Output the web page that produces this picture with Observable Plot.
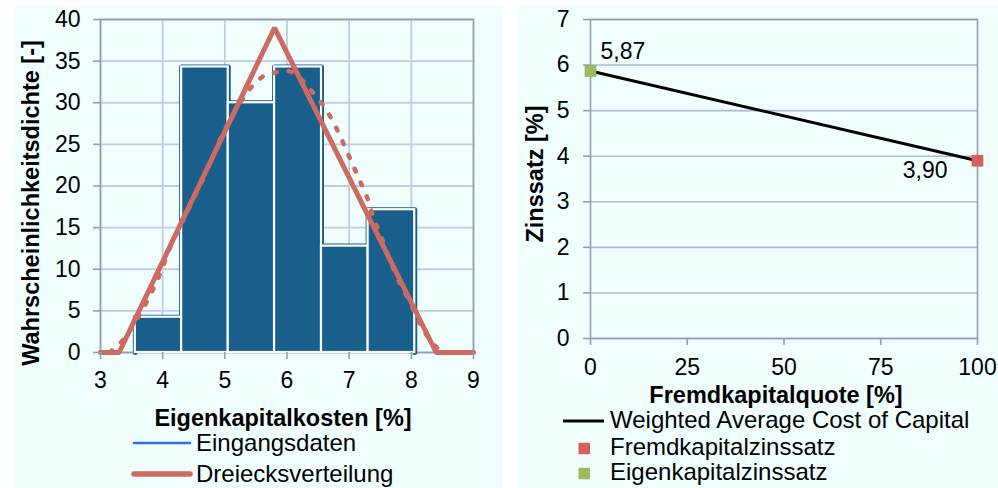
<!DOCTYPE html>
<html>
<head>
<meta charset="utf-8">
<script src="https://cdn.jsdelivr.net/npm/d3@7"></script>
<script src="https://cdn.jsdelivr.net/npm/@observablehq/plot@0.6"></script>
<style>
  html, body { margin: 0; padding: 0; background: #ffffff; }
  body { width: 998px; height: 488px; position: relative; overflow: hidden; font-family: "Liberation Sans", Arial, sans-serif; }
  .panel { position: absolute; background: #f0fffe; }
  #left { left: 14px; top: 6px; width: 489px; height: 482px; }
  #right { left: 518px; top: 6px; width: 480px; height: 482px; }
  .panel svg { position: absolute; left: 0; top: 0; }
  #overlay { position: absolute; left: 0; top: 0; pointer-events: none; }
</style>
</head>
<body>
<div class="panel" id="left"></div>
<div class="panel" id="right"></div>
<svg id="overlay" width="998" height="488"></svg>
<script>
// ---------- Left chart data ----------
const binEdges = [3.56, 4.305, 5.055, 5.80, 6.555, 7.305, 8.055];
const binHeights = [4.24, 34.3, 30.0, 34.3, 12.78, 17.15];

const triX = [3, 3.3, 5.8, 8.4, 9];
const triY = [0, 0, 39, 0, 0];

const dotX = [3.15, 3.21, 3.35, 3.57, 3.78, 3.95, 4.13, 4.40, 4.61, 4.82, 4.96, 5.15, 5.30, 5.49, 5.65, 5.79, 6.03, 6.20, 6.35, 6.57, 6.75, 6.89, 7.02, 7.15, 7.29, 7.40, 7.50, 7.64, 7.80, 7.91, 8.07, 8.20, 8.36, 8.45];
const dotY = [0, 0.4, 1.4, 3.8, 6.6, 9.3, 12.8, 17.0, 20.2, 23.8, 26.2, 28.8, 30.6, 32.4, 33.3, 33.6, 33.8, 33.0, 31.8, 29.8, 27.6, 25.4, 23.2, 21.0, 18.6, 16.0, 14.2, 11.4, 8.6, 7.0, 4.6, 2.6, 1.0, 0.3];

const leftXTicks = [3, 4, 5, 6, 7, 8, 9];
const leftYTicks = [0, 5, 10, 15, 20, 25, 30, 35, 40];

// ---------- Right chart data ----------
const fkQuote = [0, 100];
const wacc = [5.87, 3.90];
const ekPoint = [{x: 0, y: 5.87}];
const fkPoint = [{x: 100, y: 3.90}];
const rightXTicks = [0, 25, 50, 75, 100];
const rightYTicks = [0, 1, 2, 3, 4, 5, 6, 7];

// ---------- Colors ----------
const barColor = "#185f8b";
const triColor = "#cd6a62";
const gridColor = "#c0cbe8";
const axisColor = "#939db4";
const fkColor = "#d4615a";
const ekColor = "#9bbb59";
const font = "'Liberation Sans', Arial, sans-serif";

// build tables
const bins = binHeights.map((h, i) => ({x1: binEdges[i], x2: binEdges[i + 1], h}));
const outline = [];
outline.push({x: binEdges[0], y: 0});
bins.forEach(b => { outline.push({x: b.x1, y: b.h}); outline.push({x: b.x2, y: b.h}); });
outline.push({x: binEdges[binEdges.length - 1], y: 0});
const tri = triX.map((x, i) => ({x, y: triY[i]}));
const dots = dotX.map((x, i) => ({x, y: dotY[i]}));
const waccData = fkQuote.map((x, i) => ({x, y: wacc[i]}));

const leftPlot = Plot.plot({
  width: 489, height: 395,
  marginLeft: 86, marginRight: 30, marginTop: 13, marginBottom: 49,
  style: {background: "transparent", fontFamily: font, fontSize: "23px", color: "#000", overflow: "visible"},
  x: {domain: [3, 9]},
  y: {domain: [0, 40]},
  marks: [
    Plot.gridX(leftXTicks, {stroke: gridColor, strokeOpacity: 1, strokeWidth: 1.8}),
    Plot.gridY(leftYTicks, {stroke: gridColor, strokeOpacity: 1, strokeWidth: 1.8}),
    Plot.frame({stroke: axisColor, strokeWidth: 1.6}),
    Plot.line(outline, {x: "x", y: "y", stroke: barColor, strokeWidth: 5}),
    Plot.rect(bins, {x1: "x1", x2: "x2", y1: 0, y2: "h", fill: barColor, stroke: "white", strokeWidth: 2.2}),
    Plot.line(dots, {x: "x", y: "y", stroke: triColor, strokeWidth: 4.5, strokeDasharray: "3,12", strokeLinecap: "round", curve: "catmull-rom"}),
    Plot.line(tri, {x: "x", y: "y", stroke: triColor, strokeWidth: 5, strokeLinejoin: "miter"}),
    Plot.axisX(leftXTicks, {tickSize: 7, tickPadding: 12, stroke: axisColor, fill: "#000", strokeWidth: 1.6, label: null, fontSize: 23}),
    Plot.axisY(leftYTicks, {tickSize: 7, tickPadding: 13, stroke: axisColor, fill: "#000", strokeWidth: 1.6, label: null, fontSize: 23})
  ]
});
document.getElementById("left").appendChild(leftPlot);

const rightPlot = Plot.plot({
  width: 480, height: 380,
  marginLeft: 72, marginRight: 21, marginTop: 13, marginBottom: 48,
  style: {background: "transparent", fontFamily: font, fontSize: "23px", color: "#000", overflow: "visible"},
  x: {domain: [0, 100]},
  y: {domain: [0, 7]},
  marks: [
    Plot.gridY(rightYTicks, {stroke: "#aeb8d2", strokeOpacity: 1, strokeWidth: 1.6}),
    Plot.frame({stroke: axisColor, strokeWidth: 1.6}),
    Plot.line(waccData, {x: "x", y: "y", stroke: "#000", strokeWidth: 3}),
    Plot.dot(ekPoint, {x: "x", y: "y", symbol: "square", r: 6.6, fill: ekColor, stroke: "none"}),
    Plot.dot(fkPoint, {x: "x", y: "y", symbol: "square", r: 6.6, fill: fkColor, stroke: "none"}),
    Plot.text(ekPoint, {x: "x", y: "y", text: d => d3.format(".2f")(d.y).replace(".", ","), textAnchor: "start", dx: 10, dy: -19, fontSize: 23, fill: "#000"}),
    Plot.text(fkPoint, {x: "x", y: "y", text: d => d3.format(".2f")(d.y).replace(".", ","), textAnchor: "end", dx: -30, dy: 10, fontSize: 23, fill: "#000"}),
    Plot.axisX(rightXTicks, {tickSize: 7, tickPadding: 13, stroke: axisColor, fill: "#000", strokeWidth: 1.6, label: null, fontSize: 23}),
    Plot.axisY(rightYTicks, {tickSize: 7, tickPadding: 14, stroke: axisColor, fill: "#000", strokeWidth: 1.6, label: null, fontSize: 23})
  ]
});
document.getElementById("right").appendChild(rightPlot);

// ---------- Titles & legends ----------
const ov = d3.select("#overlay").style("font-family", font);
function txt(x, y, s, opts = {}) {
  const t = ov.append("text").attr("x", x).attr("y", y).text(s)
    .attr("font-size", opts.size || 24).attr("fill", "#000")
    .attr("font-weight", opts.bold ? "bold" : "normal")
    .attr("text-anchor", opts.anchor || "start");
  if (opts.rotate) t.attr("transform", `rotate(-90 ${x} ${y})`).attr("dominant-baseline", "central");
  return t;
}
txt(31, 203, "Wahrscheinlichkeitsdichte [-]", {bold: true, anchor: "middle", rotate: true, size: 23.5});
txt(283, 426, "Eigenkapitalkosten [%]", {bold: true, anchor: "middle", size: 23.5});
txt(535, 174, "Zinssatz [%]", {bold: true, anchor: "middle", rotate: true, size: 23.5});
txt(776, 403, "Fremdkapitalquote [%]", {bold: true, anchor: "middle", size: 23.5});

// left legend
const leftLegend = [
  {label: "Eingangsdaten", color: "#2d6fe4", width: 2.5, y: 443},
  {label: "Dreiecksverteilung", color: triColor, width: 5.5, y: 474}
];
leftLegend.forEach(d => {
  ov.append("line").attr("x1", 134).attr("x2", 190).attr("y1", d.y).attr("y2", d.y)
    .attr("stroke", d.color).attr("stroke-width", d.width).attr("stroke-linecap", "round");
  txt(196, d.y + 8, d.label);
});

// right legend
ov.append("line").attr("x1", 563).attr("x2", 604).attr("y1", 421).attr("y2", 421).attr("stroke", "#000").attr("stroke-width", 3);
txt(610, 428, "Weighted Average Cost of Capital");
[{label: "Fremdkapitalzinssatz", color: fkColor, y: 448.5}, {label: "Eigenkapitalzinssatz", color: ekColor, y: 473.5}].forEach(d => {
  ov.append("rect").attr("x", 578.5).attr("y", d.y - 5.75).attr("width", 11.5).attr("height", 11.5).attr("fill", d.color);
  txt(610, d.y + 6.5, d.label);
});
</script>
</body>
</html>
